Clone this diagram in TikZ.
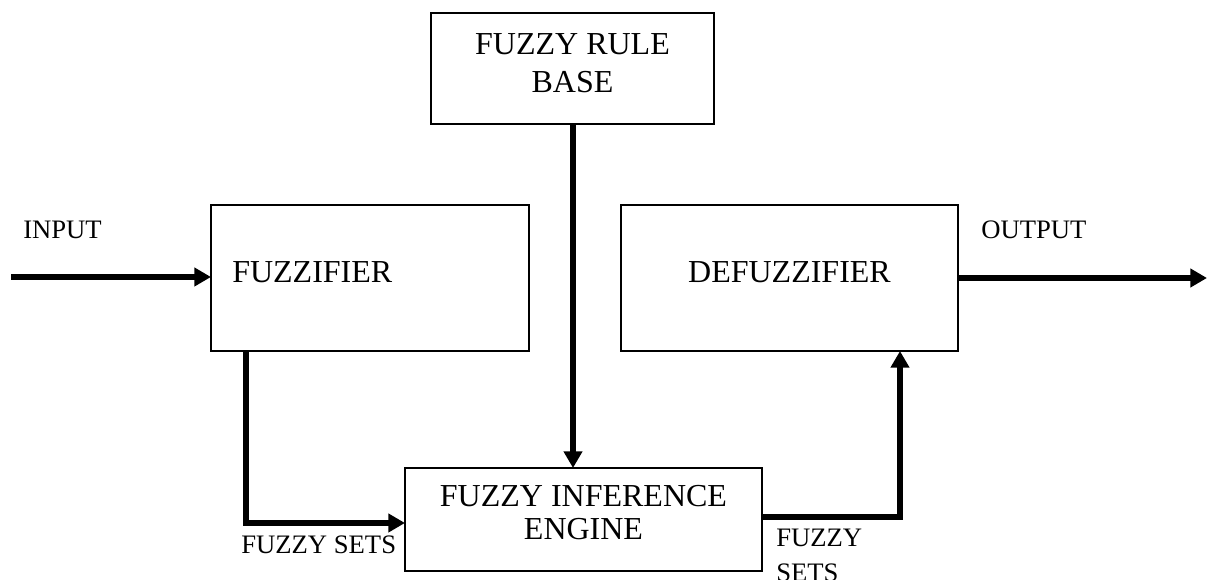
\documentclass[tikz,border=0pt]{standalone}
\usepackage{fontspec}
\setmainfont{Liberation Serif}
\usetikzlibrary{arrows.meta}
\begin{document}
\begin{tikzpicture}[x=0.75pt,y=-0.75pt,
  box/.style={draw=black,line width=1.3pt,inner sep=0pt,outer sep=0pt,fill=white},
  conn/.style={line width=4.4pt,-{Triangle[length=12.5pt,width=13.5pt]}},
  boxtxt/.style={inner sep=0pt,font=\fontsize{24}{28}\selectfont},
  lbl/.style={inner sep=0pt,font=\fontsize{20}{26}\selectfont}]
\useasboundingbox (0,0) rectangle (1208,580);
% boxes
\node[box,minimum width=212.25pt,minimum height=83.25pt] (rb) at (572.5,68.5) {};
\node[box,minimum width=238.5pt,minimum height=109.5pt] (fz) at (370,278) {};
\node[box,minimum width=252.75pt,minimum height=109.5pt] (dfz) at (789.5,278) {};
\node[box,minimum width=267.75pt,minimum height=77.25pt] (ie) at (583.5,519.5) {};
% box texts
\node[boxtxt,align=center,anchor=north,font=\fontsize{24}{28.5}\selectfont] (rbt) at (572.5,33) {FUZZY RULE\\BASE};
\node[boxtxt,anchor=base west] (fzt) at (232,283) {FUZZIFIER};
\node[boxtxt,anchor=base] (dfzt) at (789.5,283) {DEFUZZIFIER};
\node[boxtxt,align=center,anchor=north,font=\fontsize{24}{25}\selectfont] (iet) at (583.5,485) {FUZZY INFERENCE\\ENGINE};
% labels
\node[lbl,anchor=base west] (inl) at (23,239) {INPUT};
\node[lbl,anchor=base west] (outl) at (981,239) {OUTPUT};
\node[lbl,anchor=base west] (fs1) at (241,554) {FUZZY SETS};
\node[lbl,align=left,anchor=north west] (fs2) at (776,529) {FUZZY\\SETS};
% connector coordinates
\coordinate (inp) at (11,277);
\coordinate (outp) at (1207,278);
\coordinate (c1) at (246,523);
\coordinate (c2) at (900,517);
\coordinate (c3) at (573,0);
% connectors
\draw[conn] (inp) -- (fz.west |- inp);
\draw[conn] (dfz.east |- outp) -- (outp);
\draw[conn] (rb.south -| c3) -- (ie.north -| c3);
\draw[conn] (fz.south -| c1) |- (ie.west |- c1);
\draw[conn] (ie.east |- c2) -| (dfz.south -| c2);
\end{tikzpicture}
\end{document}
